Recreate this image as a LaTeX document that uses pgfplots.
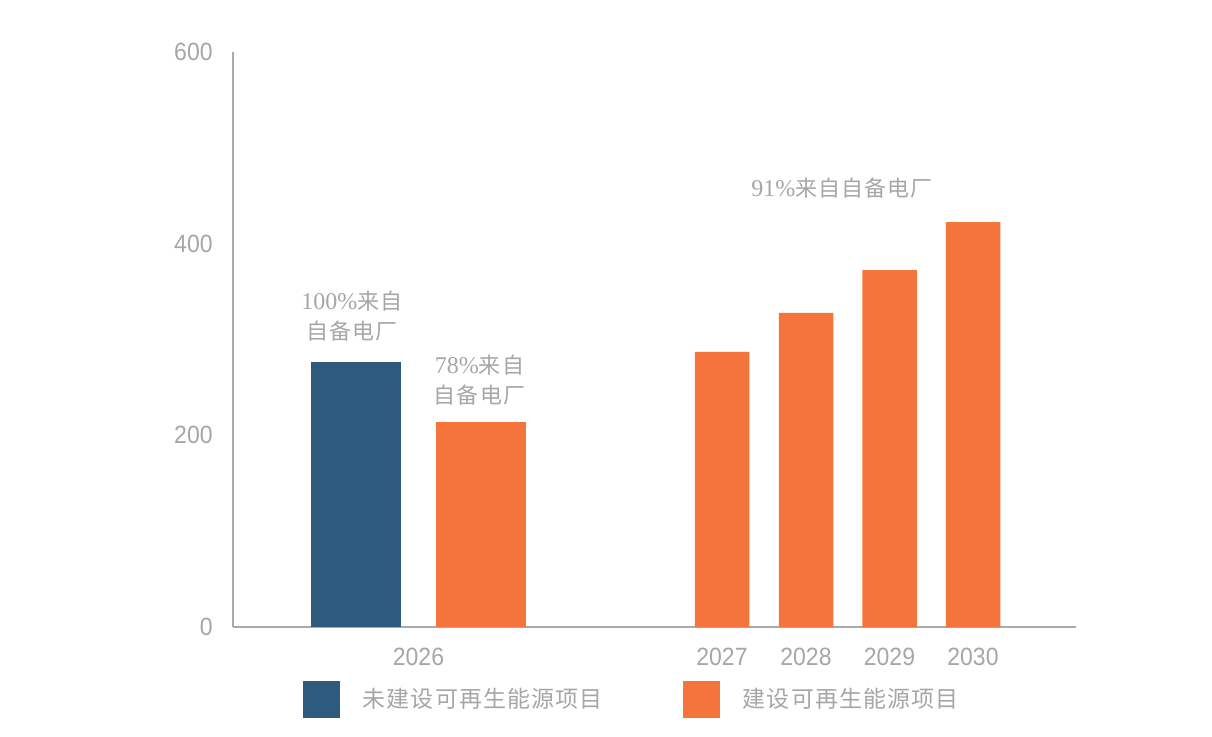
\documentclass[border=0pt]{standalone}
\usepackage{fontspec}
\usepackage{pgfplots}
\pgfplotsset{compat=1.18}
\setmainfont{Liberation Serif}
\newfontfamily\cjk[LetterSpace=5]{Noto Sans CJK SC}
\newfontfamily\cjkleg[LetterSpace=5]{Noto Sans CJK SC}
\newfontfamily\tickfont[FakeStretch=0.92]{Liberation Sans}
\newcommand\dig[1]{{\fontsize{12pt}{15pt}\selectfont #1}}
\definecolor{barblue}{RGB}{46,90,126}
\definecolor{barorange}{RGB}{244,116,59}
\definecolor{txt}{RGB}{166,166,166}
\definecolor{axisgray}{RGB}{170,170,170}
\begin{document}
\begin{tikzpicture}
\useasboundingbox (0,0) rectangle (606pt,368pt);
\begin{axis}[
  at={(116.5pt,54.5pt)}, anchor=south west,
  scale only axis, width=421.5pt, height=287.5pt,
  xmin=233, xmax=1076, ymin=0, ymax=600,
  axis x line*=bottom, axis y line*=left,
  axis line style={draw=axisgray, line width=0.75pt},
  ytick={0,200,400,600},
  xtick={418.5,722,806,889.5,973},
  xticklabels={2026,2027,2028,2029,2030},
  major tick length=0pt,
  tick style={draw=none},
  ticklabel style={font=\tickfont\fontsize{12.5pt}{14pt}\selectfont, text=txt},
  yticklabel style={anchor=east, inner sep=0pt, xshift=-10pt},
  xticklabel style={anchor=north, inner sep=0pt, yshift=-10.5pt},
  /pgf/number format/assume math mode=true,
  legend columns=2,
  legend style={at={(axis description cs:0.0830,-0.1261)}, anchor=west,
    draw=none, fill=none, inner sep=0pt, outer sep=0pt,
    nodes={inner sep=0pt},
    /tikz/every odd column/.append style={column sep=11.35pt},
    /tikz/every even column/.append style={column sep=40pt},
    font=\cjkleg\fontsize{11.5pt}{13pt}\selectfont, text=txt},
  legend image code/.code={\fill[#1] (0pt,-9.25pt) rectangle (18.5pt,9.25pt);},
]
\addplot[ybar, bar width=89.7, bar shift=0pt, fill=barblue, draw=none]
  coordinates {(356,276.5)};
\addlegendentry{未建设可再生能源项目}
\addplot[ybar, bar width=54.5, bar shift=0pt, fill=barorange, draw=none]
  coordinates {(722,287) (806,327.7) (889.5,372.5) (973,422.6)};
\addlegendentry{建设可再生能源项目}
\addplot[ybar, bar width=90, bar shift=0pt, fill=barorange, draw=none, forget plot]
  coordinates {(481,214)};

\node[rotate=90, text=txt, font=\cjk\fontsize{10pt}{12pt}\selectfont]
  at (axis description cs:-0.134,0.511) {元/吨铝};
\node[align=center, text=txt, font=\fontsize{11pt}{15pt}\selectfont]
  at (axis cs:352,324.5) {\dig{100\%}{\cjk 来自}\\{\cjk 自备电厂}};
\node[align=center, text=txt, font=\fontsize{11pt}{15pt}\selectfont]
  at (axis cs:479.5,257.7) {\dig{78\%}{\cjk 来自}\\{\cjk 自备电厂}};
\node[align=center, text=txt, font=\fontsize{11pt}{15pt}\selectfont]
  at (axis cs:842,458.1) {\dig{91\%}{\cjk 来自自备电厂}};
\end{axis}
\end{tikzpicture}
\end{document}
